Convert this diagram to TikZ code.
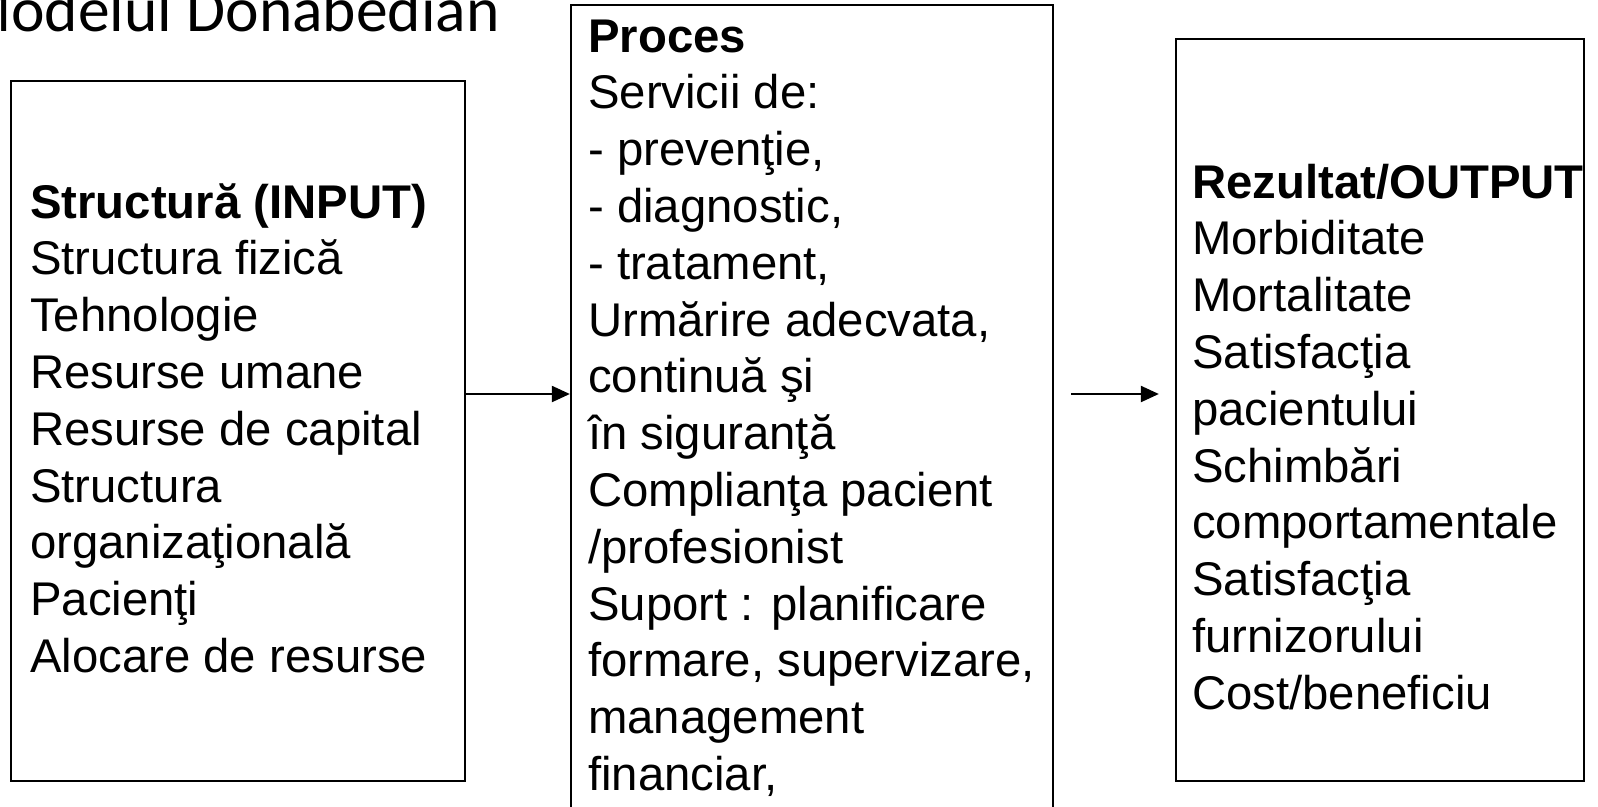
\documentclass[tikz,border=0pt]{standalone}
\usepackage{fontspec}
\setmainfont{Liberation Sans}
\newfontfamily\titlefamily{Carlito}
\usetikzlibrary{arrows.meta}
\newcommand\boxlines[1]{\parbox[t]{520pt}{\raggedright\fontsize{47.3}{56.8}\selectfont #1}}
\tikzset{
  panel/.style={draw=black, line width=2.3pt, rectangle, inner sep=0pt, fill=none},
  panetext/.style={anchor=base west, inner sep=0pt, text=black},
  flow/.style={draw=black, line width=2.2pt, -{Triangle[length=18pt,width=16pt]}},
}
\begin{document}
\begin{tikzpicture}[x=1pt,y=-1pt]
\useasboundingbox (0,0) rectangle (1598,806);
\clip (0,0) rectangle (1598,806);
\fill[white] (0,0) rectangle (1598,806);
% title (partly cut off at the left edge)
\node[anchor=base east, inner sep=0pt, font={\titlefamily\fontsize{63.5}{72}\selectfont}] (title) at (500,31) {Modelul Donabedian};
% boxes
\node[panel, minimum width=454pt, minimum height=700pt] (s) at (238,431) {};
\node[panel, minimum width=482pt, minimum height=895pt] (p) at (812,452.5) {};
\node[panel, minimum width=408pt, minimum height=742pt] (r) at (1380,410) {};
% texts
\node[panetext] (stext) at (30,218) {\boxlines{\textbf{Structură (INPUT)}\\
Structura fizică\\
Tehnologie\\
Resurse umane\\
Resurse de capital\\
Structura\\
organizaţională\\
Pacienţi\\
Alocare de resurse}};
\node[panetext] (ptext) at (588,52) {\boxlines{\textbf{Proces}\\
Servicii de:\\
- prevenţie,\\
- diagnostic,\\
- tratament,\\
Urmărire adecvata,\\
continuă şi\\
în siguranţă\\
Complianţa pacient\\
/profesionist\\
Suport : planificare\\
formare, supervizare,\\
management\\
financiar,}};
\node[panetext] (rtext) at (1192,198) {\boxlines{\textbf{Rezultat/OUTPUT}\\
Morbiditate\\
Mortalitate\\
Satisfacţia\\
pacientului\\
Schimbări\\
comportamentale\\
Satisfacţia\\
furnizorului\\
Cost/beneficiu}};
% arrows
\coordinate (ay) at (0,394);
\draw[flow] (s.east |- ay) -- (p.west |- ay);
\draw[flow, shorten <=17pt, shorten >=16pt] (p.east |- ay) -- (r.west |- ay);
\end{tikzpicture}
\end{document}
